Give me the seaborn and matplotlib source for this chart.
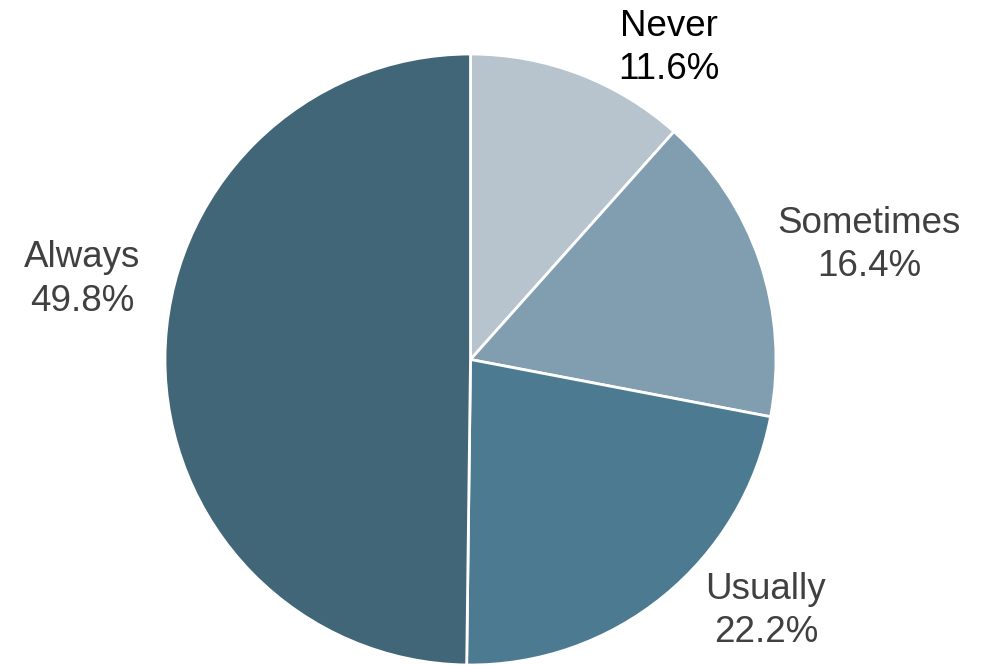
import seaborn as sns
import matplotlib.pyplot as plt

categories = ['Never', 'Sometimes', 'Usually', 'Always']
shares = [11.6, 16.4, 22.2, 49.8]
colors = ['#b7c4ce', '#819eb0', '#4c7a91', '#416678']
text_colors = ['#000000', '#404040', '#404040', '#404040']
# label anchor points, in units of the pie radius
label_pos = [(0.649, 1.020), (1.305, 0.374), (0.967, -0.823), (-1.272, 0.262)]

sns.set_theme(style='white')
plt.rcParams['font.family'] = ['Liberation Sans', 'DejaVu Sans']

fig = plt.figure(figsize=(9.9, 6.65), dpi=100)
ax = fig.add_axes([165 / 990, 0, 611 / 990, 611 / 665])
ax.pie(shares, colors=colors, startangle=90, counterclock=False, radius=1,
       wedgeprops=dict(edgecolor='white', linewidth=2))
ax.set_xlim(-1, 1)
ax.set_ylim(-1, 1)
ax.set_aspect('auto')
ax.axis('off')

for name, val, (x, y), c in zip(categories, shares, label_pos, text_colors):
    ax.text(x, y, f'{name}\n{val:.1f}%', ha='center', va='center',
            fontsize=26.5, color=c, linespacing=1.3, clip_on=False)

fig.savefig('out.png', dpi=100)
